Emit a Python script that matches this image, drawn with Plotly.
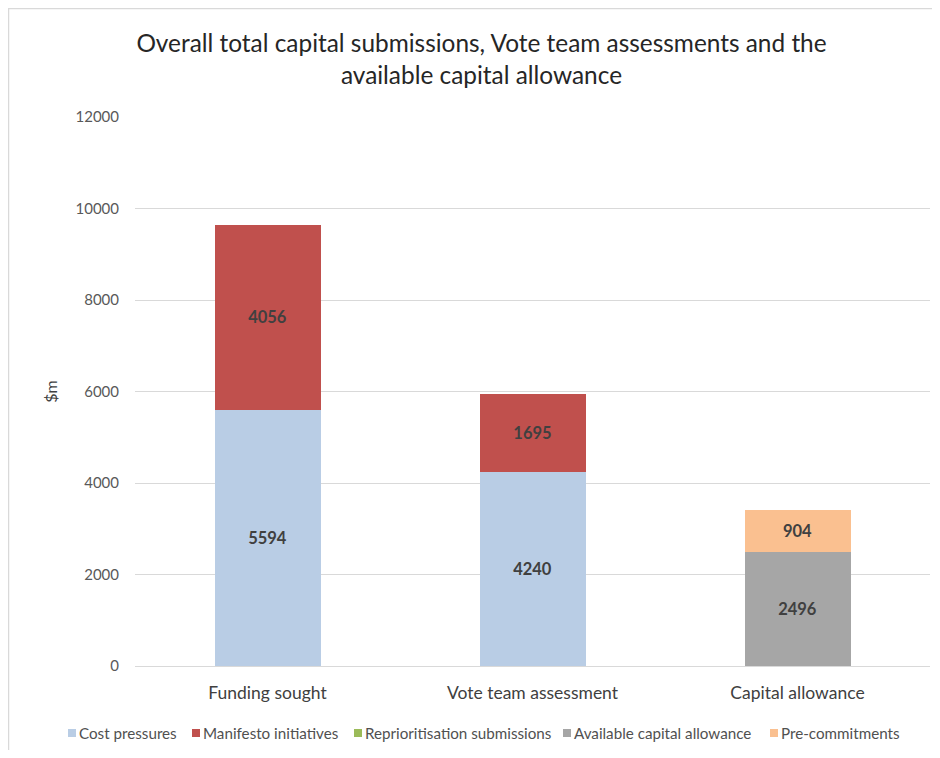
import plotly.graph_objects as go

categories = ["Funding sought", "Vote team assessment", "Capital allowance"]
series_names = ["Cost pressures", "Manifesto initiatives", "Reprioritisation submissions",
                "Available capital allowance", "Pre-commitments"]
cost_pressures = [5594, 4240, None]
manifesto_initiatives = [4056, 1695, None]
reprioritisation_submissions = [0, 0, 0]
available_capital_allowance = [None, None, 2496]
pre_commitments = [None, None, 904]
y_ticks = [0, 2000, 4000, 6000, 8000, 10000, 12000]
y_tick_labels = ["0", "2000", "4000", "6000", "8000", "10000", "12000"]

colors = ["#B9CDE5", "#C0504D", "#9BBB59", "#A6A6A6", "#FAC090"]
series = [cost_pressures, manifesto_initiatives, reprioritisation_submissions,
          available_capital_allowance, pre_commitments]

FONT = "Lato, 'Open Sans', sans-serif"

# figure geometry (page body adds an 8px offset)
W, H = 924, 742
L, R, T, B = 127, 2, 109, 84
PW, PH = W - L - R, H - T - B


def px_x(x):  # figure pixel -> paper x
    return (x - L) / PW


def px_y(y):  # figure pixel -> paper y
    return (H - B - y) / PH


fig = go.Figure()
for name, vals, col in zip(series_names, series, colors):
    show_text = name != "Reprioritisation submissions"
    fig.add_trace(go.Bar(
        name=name, x=categories, y=vals,
        marker=dict(color=col, line=dict(width=0)),
        text=[(str(v) if (v is not None and show_text) else "") for v in vals],
        textposition="inside", insidetextanchor="middle", textangle=0,
        textfont=dict(family=FONT, size=16.5, color="#404040", weight="bold"),
        width=0.4, showlegend=False,
    ))

# legend drawn as small squares + text, in one row like the original
legend_left = [60, 184, 346, 555, 762]   # square left edges (figure px)
legend_yc = 725
shapes = []
annotations = []
for name, col, lx in zip(series_names, colors, legend_left):
    shapes.append(dict(type="rect", xref="paper", yref="paper",
                       x0=px_x(lx), x1=px_x(lx + 8),
                       y0=px_y(legend_yc + 4), y1=px_y(legend_yc - 4),
                       line=dict(width=0), fillcolor=col))
    annotations.append(dict(text=name, xref="paper", yref="paper",
                            x=px_x(lx + 9), y=px_y(legend_yc),
                            xanchor="left", yanchor="middle", showarrow=False,
                            font=dict(family=FONT, size=15.2, color="#505050")))

shapes.append(dict(type="rect", xref="paper", yref="paper",
                   x0=px_x(0.5), x1=px_x(W + 20), y0=px_y(H + 20), y1=px_y(0.5),
                   line=dict(color="#D9D9D9", width=1.5),
                   fillcolor="rgba(0,0,0,0)", layer="below"))

fig.update_layout(
    barmode="stack",
    width=W, height=H,
    margin=dict(l=L, r=R, t=T, b=B, autoexpand=False),
    paper_bgcolor="white", plot_bgcolor="white",
    font=dict(family=FONT, color="#595959"),
    title=dict(
        text="Overall total capital submissions, Vote team assessments and the<br>available capital allowance",
        font=dict(family=FONT, size=24.4, color="#262626"),
        x=473.5 / W, xref="container", xanchor="center",
        y=1 - 44 / H, yref="container", yanchor="middle",
    ),
    showlegend=False,
    yaxis=dict(
        range=[0, 12000], tickvals=y_ticks, ticktext=y_tick_labels,
        showgrid=True, gridcolor="#D9D9D9",
        gridwidth=1.3, zeroline=True, zerolinecolor="#D9D9D9", zerolinewidth=1.3,
        showline=False, tickfont=dict(family=FONT, size=15, color="#595959"),
        ticklabelstandoff=15,
        title=dict(text="$m", font=dict(family=FONT, size=16, color="#404040"), standoff=13),
    ),
    xaxis=dict(
        showline=False, showgrid=False,
        tickfont=dict(family=FONT, size=17.5, color="#404040"),
        ticklabelstandoff=14,
    ),
    bargap=0.6,
    shapes=shapes,
    annotations=annotations,
)

fig.write_html("out.html")
